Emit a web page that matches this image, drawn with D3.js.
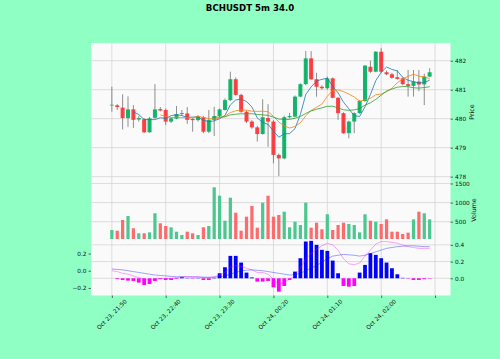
<!DOCTYPE html>
<html><head><meta charset="utf-8">
<script src="https://cdn.jsdelivr.net/npm/d3@7"></script>
<style>body{margin:0;background:#8fffc4;} svg{display:block;}</style>
</head><body>
<script>
const title = "BCHUSDT 5m 34.0";
const opens  = [480.46,480.46,480.38,480.02,480.32,479.97,479.98,479.53,480.03,480.33,480.30,479.90,480.00,480.16,480.18,479.99,479.95,480.05,479.55,479.96,480.09,480.30,480.64,481.36,480.82,480.24,479.90,479.70,479.47,480.02,479.90,478.75,478.63,480.05,480.07,480.76,481.19,482.08,481.36,481.10,481.05,481.39,480.72,480.19,479.50,479.90,480.19,480.61,481.79,481.62,482.31,481.60,481.53,481.43,481.39,481.19,481.13,481.28,481.18,481.45];
const highs  = [481.10,480.50,480.84,480.77,480.47,480.10,480.02,480.06,481.19,480.40,480.35,480.05,480.44,480.30,480.40,480.02,480.12,480.10,480.30,480.41,480.35,480.70,481.62,481.42,480.86,480.28,479.95,479.75,480.67,480.50,479.95,478.80,480.10,480.20,480.80,481.22,482.33,482.33,481.58,481.15,481.45,481.42,480.75,480.22,479.93,480.22,480.64,481.85,482.00,482.33,482.43,481.66,481.58,481.68,481.42,481.68,481.68,481.68,481.55,481.74];
const lows   = [480.24,480.30,479.63,479.72,479.68,479.90,479.50,479.52,480.00,480.25,479.78,479.85,479.98,480.10,479.82,479.55,479.90,479.50,479.50,479.40,480.05,480.28,480.60,480.80,480.20,479.85,479.65,479.21,479.45,479.03,478.46,478.02,478.60,480.00,480.05,480.74,481.15,481.33,480.76,481.00,481.00,480.70,479.96,479.48,479.32,479.50,480.17,480.58,481.58,481.60,481.58,481.50,481.38,481.35,481.15,480.76,480.76,480.95,480.47,481.43];
const closes = [480.48,480.40,480.02,480.32,479.96,480.02,479.53,480.01,480.32,480.28,479.90,480.01,480.16,480.19,479.96,479.95,480.07,479.55,479.96,480.09,480.32,480.64,481.36,480.82,480.24,479.90,479.70,479.47,480.05,479.90,478.75,478.63,480.05,480.09,480.76,481.19,482.08,481.36,481.10,481.05,481.39,480.72,480.19,479.50,479.90,480.19,480.61,481.83,481.62,482.31,481.62,481.53,481.41,481.37,481.19,481.13,481.28,481.18,481.45,481.60];
const volumes = [283,264,545,650,327,196,196,222,720,458,387,353,238,152,238,196,152,353,387,1400,1180,526,1128,736,264,631,911,343,997,1180,631,675,762,353,500,413,997,343,474,301,694,283,413,474,440,413,222,694,526,500,440,561,238,238,178,213,561,762,720,561];
const macdHist = [0,-0.01,-0.02,-0.028,-0.032,-0.052,-0.08,-0.068,-0.032,-0.01,-0.02,-0.02,-0.008,0.012,0.003,-0.005,0.003,-0.02,-0.02,0.005,0.06,0.132,0.268,0.268,0.188,0.068,0.01,-0.04,-0.04,-0.032,-0.108,-0.16,-0.092,-0.02,0.08,0.24,0.44,0.448,0.4,0.34,0.328,0.212,0.06,-0.092,-0.1,-0.092,0.068,0.16,0.3,0.28,0.24,0.188,0.12,0.048,0.005,-0.005,-0.02,-0.02,-0.012,-0.005];
const macdLine = [0.0,-0.01,-0.03,-0.04,-0.06,-0.08,-0.1,-0.11,-0.1,-0.09,-0.09,-0.09,-0.08,-0.07,-0.07,-0.07,-0.07,-0.08,-0.08,-0.07,-0.05,-0.02,0.04,0.06,0.05,0.03,0.01,-0.02,-0.02,-0.04,-0.1,-0.16,-0.13,-0.1,-0.05,0.03,0.14,0.2,0.25,0.29,0.32,0.3,0.24,0.14,0.08,0.07,0.09,0.17,0.24,0.31,0.34,0.34,0.33,0.32,0.3,0.28,0.27,0.26,0.26,0.26];
const signalLine = [0.02,0.015,0.01,0.0,-0.01,-0.02,-0.03,-0.04,-0.05,-0.055,-0.06,-0.065,-0.07,-0.07,-0.072,-0.073,-0.074,-0.075,-0.076,-0.075,-0.07,-0.06,-0.04,-0.02,0.0,0.005,0.01,0.005,0.0,-0.01,-0.02,-0.03,-0.04,-0.05,-0.045,-0.03,0.0,0.03,0.06,0.1,0.14,0.17,0.18,0.19,0.185,0.18,0.17,0.18,0.2,0.22,0.24,0.26,0.27,0.28,0.285,0.29,0.29,0.285,0.28,0.28];
const xTickIdx = [0,10,20,30,40,50,60];
const xTickLabels = ["Oct 23, 21:50","Oct 23, 22:40","Oct 23, 23:30","Oct 24, 00:20","Oct 24, 01:10","Oct 24, 02:00",""];
const priceTicks = [478,479,480,481,482];
const volTicks = [500,1000,1500];
const macdRightTicks = [0.0,0.2,0.4];
const macdLeftTicks = [-0.2,0.0,0.2];
const mavPeriods = [5,10,20];

function sma(arr,n){return arr.map((v,i)=> i<n-1 ? null : d3.mean(arr.slice(i-n+1,i+1)));}

const W=500,H=359;
const L=91,R=450.5;
const mainT=43,mainB=181,volT=181,volB=239,macT=239,macB=295.5;
const face="#fafafa",grid="#d0d0d0",txt="#101010";
const upC="#00b060",dnC="#fe3032",vUp="#4dc790",vDn="#fd6b6c";
const mavColors=["#1f77b4","#ff7f0e","#2ca02c"];
const fontF="DejaVu Sans, sans-serif";

const svg=d3.select("body").append("svg").attr("width",W).attr("height",H);
svg.append("rect").attr("width",W).attr("height",H).attr("fill","#8fffc4");

const n=closes.length;
const x=d3.scaleLinear().domain([-3.87,62.87]).range([L,R]);
const yP=d3.scaleLinear().domain([477.85,482.61]).range([mainB,mainT]);
const yV=d3.scaleLinear().domain([47,1565]).range([volB,volT]);
const yH=d3.scaleLinear().domain([-0.206,0.47]).range([macB,macT]);
const yM=d3.scaleLinear().domain([-0.288,0.369]).range([macB,macT]);

[[mainT,mainB],[volT,volB],[macT,macB]].forEach(([t,b])=>{
  svg.append("rect").attr("x",L).attr("y",t).attr("width",R-L).attr("height",b-t).attr("fill",face);
});
const g=svg.append("g").attr("stroke",grid).attr("stroke-width",0.7);
xTickIdx.forEach(i=>{[[mainT,mainB],[volT,volB],[macT,macB]].forEach(([t,b])=>{
  g.append("line").attr("x1",x(i)).attr("x2",x(i)).attr("y1",t).attr("y2",b);});});
priceTicks.forEach(v=>g.append("line").attr("x1",L).attr("x2",R).attr("y1",yP(v)).attr("y2",yP(v)));
volTicks.forEach(v=>g.append("line").attr("x1",L).attr("x2",R).attr("y1",yV(v)).attr("y2",yV(v)));
macdRightTicks.forEach(v=>g.append("line").attr("x1",L).attr("x2",R).attr("y1",yH(v)).attr("y2",yH(v)));

const cw=0.75*(x(1)-x(0));
const cg=svg.append("g");
closes.forEach((c,i)=>{
  const o=opens[i],up=c>=o,col=up?upC:dnC;
  cg.append("line").attr("x1",x(i)).attr("x2",x(i)).attr("y1",yP(highs[i])).attr("y2",yP(lows[i]))
    .attr("stroke","#606060").attr("stroke-width",0.7);
  const top=yP(Math.max(o,c)),bot=yP(Math.min(o,c));
  cg.append("rect").attr("x",x(i)-cw/2).attr("y",top).attr("width",cw).attr("height",Math.max(bot-top,0.7))
    .attr("fill",col).attr("fill-opacity",0.9);
});
mavPeriods.forEach((p,k)=>{
  const m=sma(closes,p);
  const line=d3.line().defined(d=>d!=null).x((d,i)=>x(i)).y(d=>yP(d));
  svg.append("path").datum(m).attr("d",line).attr("fill","none").attr("stroke",mavColors[k]).attr("stroke-width",0.8);
});
const vw=0.6*(x(1)-x(0));
volumes.forEach((v,i)=>{
  const up = i===0 ? closes[0]>=opens[0] : closes[i]>=closes[i-1];
  svg.append("rect").attr("x",x(i)-vw/2).attr("y",yV(v)).attr("width",vw).attr("height",volB-yV(v))
    .attr("fill",up?vUp:vDn);
});
const hw=0.7*(x(1)-x(0));
macdHist.forEach((v,i)=>{
  const y0=yH(0),y1=yH(v);
  svg.append("rect").attr("x",x(i)-hw/2).attr("y",Math.min(y0,y1)).attr("width",hw).attr("height",Math.abs(y1-y0))
    .attr("fill",v>=0?"#0000ff":"#ff00ff");
});
const lm=d3.line().x((d,i)=>x(i)).y(d=>yM(d));
svg.append("path").datum(macdLine).attr("d",lm).attr("fill","none").attr("stroke","#ff00ff").attr("stroke-width",0.6).attr("stroke-opacity",0.6);
svg.append("path").datum(signalLine).attr("d",lm).attr("fill","none").attr("stroke","#0000ff").attr("stroke-width",0.6).attr("stroke-opacity",0.6);

const fs=5.8;
function rightAxis(scale,ticks,fmt){
  const a=d3.axisRight(scale).tickValues(ticks).tickFormat(fmt).tickSize(2.5).tickPadding(2);
  const ga=svg.append("g").attr("transform",`translate(${R},0)`).call(a);
  ga.select(".domain").remove();
  ga.selectAll("text").attr("font-size",fs).attr("font-family",fontF).attr("fill",txt);
  ga.selectAll("line").attr("stroke",txt).attr("stroke-width",0.6);
}
rightAxis(yP,priceTicks,d3.format("d"));
rightAxis(yV,volTicks,d3.format("d"));
rightAxis(yH,macdRightTicks,d3.format(".1f"));
{
  const a=d3.axisLeft(yM).tickValues(macdLeftTicks).tickFormat(d=>d3.format(".1f")(d).replace("-","\u2212")).tickSize(2.5).tickPadding(2);
  const ga=svg.append("g").attr("transform",`translate(${L},0)`).call(a);
  ga.select(".domain").remove();
  ga.selectAll("text").attr("font-size",fs).attr("font-family",fontF).attr("fill",txt);
  ga.selectAll("line").attr("stroke",txt).attr("stroke-width",0.6);
}
{
  const a=d3.axisBottom(x).tickValues(xTickIdx).tickFormat("").tickSize(2.5);
  const ga=svg.append("g").attr("transform",`translate(0,${macB})`).call(a);
  ga.select(".domain").remove();
  ga.selectAll("line").attr("stroke",txt).attr("stroke-width",0.6);
  xTickIdx.forEach((idx,k)=>{
    const cx=x(idx),cy=macB+19;
    svg.append("text").attr("transform",`translate(${cx},${cy}) rotate(-45)`).attr("text-anchor","middle")
      .attr("dominant-baseline","central").attr("font-size",fs).attr("font-family",fontF).attr("fill",txt).text(xTickLabels[k]);
  });
}
svg.append("text").attr("transform",`translate(474,${(mainT+mainB)/2}) rotate(-90)`).attr("text-anchor","middle")
  .attr("font-size",6.3).attr("font-family",fontF).attr("fill",txt).text("Price");
svg.append("text").attr("transform",`translate(476,${(volT+volB)/2}) rotate(-90)`).attr("text-anchor","middle")
  .attr("font-size",6.3).attr("font-family",fontF).attr("fill",txt).text("Volume");
svg.append("text").attr("x",250).attr("y",11).attr("text-anchor","middle").attr("font-weight","bold")
  .attr("font-size",8.6).attr("font-family",fontF).attr("fill","#000").text(title);
</script>
</body></html>
